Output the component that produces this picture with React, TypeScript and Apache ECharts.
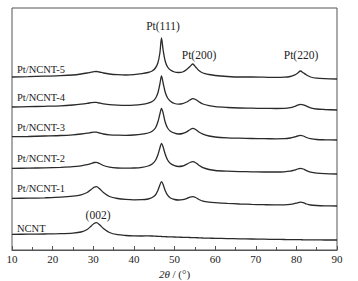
import React, { useEffect, useRef } from "react";
import * as echarts from "echarts";

// 2θ grid (degrees)
const TWO_THETA = [10, 14, 18, 22, 25, 27, 28.5, 29.5, 30.2, 30.8, 31.5, 32.5, 34, 36, 38, 40, 42, 43.5, 44.5, 45.3, 45.9, 46.4, 46.8, 47.2, 47.7, 48.3, 49, 50, 51, 52, 53, 53.8, 54.5, 55.2, 56, 57, 58.5, 60, 63, 66, 69, 72, 75, 77, 78.5, 79.5, 80.3, 81, 81.7, 82.5, 83.5, 85, 87, 90];

// Intensities (a.u., stacked with offsets as in the figure)
const NCNT = [15.7, 15.8, 16, 16.3, 16.9, 18, 20.5, 24, 26.5, 27.3, 25.5, 21.5, 17.5, 15.3, 14.5, 14.1, 14, 14.1, 14, 13.8, 13.7, 13.6, 13.5, 13.4, 13.3, 13.2, 13.1, 13, 12.8, 12.7, 12.6, 12.5, 12.4, 12.3, 12.2, 12, 11.8, 11.7, 11.4, 11.2, 11, 10.8, 10.6, 10.5, 10.4, 10.4, 10.3, 10.3, 10.2, 10.2, 10.1, 10.1, 10, 10];
const PT_NCNT_1 = [51.7, 51.8, 52.2, 52.8, 53.8, 55.2, 57.5, 60.5, 62.8, 63.3, 61.5, 57.5, 53.5, 51.5, 50.6, 50.2, 50.3, 51, 52.5, 55, 59.5, 65, 68.3, 65.5, 59.5, 54.8, 52, 50.5, 50, 50.3, 51.5, 52.8, 53.3, 52.5, 50.5, 48.8, 47.8, 47.3, 46.6, 46, 45.6, 45.3, 45.1, 45.2, 45.6, 46.3, 47.2, 47.8, 47.3, 46, 45, 44.5, 44.2, 44];
const PT_NCNT_2 = [81.7, 81.8, 82.2, 82.7, 83.3, 84.2, 85.3, 86.5, 87.5, 87.7, 86.5, 84.5, 82.8, 82, 81.8, 82, 82.7, 84, 86, 89.5, 95, 102, 106.7, 103, 96, 90, 86.5, 84.3, 83.5, 84, 85.8, 87.5, 88.3, 87.3, 84.8, 82.3, 80.5, 79.5, 78.8, 78.4, 78.2, 78, 78, 78.2, 78.8, 79.8, 81, 81.7, 81, 79.3, 77.8, 76.8, 76.3, 76];
const PT_NCNT_3 = [113.3, 113.5, 114, 114.5, 115.2, 116, 116.8, 117.5, 117.9, 117.8, 117, 116, 115.2, 114.8, 114.7, 115, 115.8, 117, 118.8, 122, 128, 136, 141.7, 137, 128, 122, 118.8, 116.8, 116, 116.5, 118.2, 120.3, 121.7, 120.5, 118, 115.8, 114, 113, 112.2, 111.8, 111.5, 111.3, 111.2, 111.3, 112, 113, 114, 114.6, 114, 112.5, 111.3, 110.5, 110.2, 110];
const PT_NCNT_4 = [143, 143.3, 143.7, 144.2, 145, 145.8, 146.6, 147.3, 147.7, 147.6, 147, 146.2, 145.3, 144.8, 144.6, 144.8, 145.6, 146.8, 148.5, 151.5, 157, 166, 174, 167, 158, 152, 148.8, 146.5, 145.8, 146.3, 148, 150, 151.3, 150.5, 148.3, 146, 144.3, 143.3, 142.5, 142, 141.8, 141.6, 141.5, 141.6, 142.3, 143.5, 144.8, 145.7, 145.2, 143.8, 142.2, 141, 140.5, 140];
const PT_NCNT_5 = [173, 173.3, 173.8, 174.3, 175, 176, 177, 177.8, 178.3, 178.5, 178, 177, 176, 175.3, 175, 175.3, 176.3, 177.5, 179, 182, 187, 197, 212, 200, 189, 183, 180, 178, 177.5, 178, 180.5, 183.5, 186, 183, 179.5, 177, 175.5, 174.5, 173.5, 173, 173, 172.8, 172.6, 172.8, 173.5, 174.8, 176.8, 179, 177.2, 175, 173, 171.8, 171.3, 171];

const SERIES_NAMES = ["NCNT", "Pt/NCNT-1", "Pt/NCNT-2", "Pt/NCNT-3", "Pt/NCNT-4", "Pt/NCNT-5"];
const SERIES_VALUES = [NCNT, PT_NCNT_1, PT_NCNT_2, PT_NCNT_3, PT_NCNT_4, PT_NCNT_5];

const PEAK_LABELS = ["Pt(111)", "Pt(200)", "Pt(220)", "(002)"];
const X_TICKS = [10, 20, 30, 40, 50, 60, 70, 80, 90];

export default function App() {
  const ref = useRef<HTMLDivElement>(null);
  useEffect(() => {
    document.body.style.margin = "0";
    const chart = echarts.init(ref.current!, null, { renderer: "svg" });
    const font = "Liberation Serif";
    const labelY = [228.5, 188, 158.5, 127, 97.3, 69];
    const peakPos = [
      [163, 26],
      [199, 54.5],
      [301, 54.5],
      [98, 215],
    ];
    chart.setOption({
      animation: false,
      backgroundColor: "#fff",
      grid: {
        left: 12,
        right: 21,
        top: 8,
        bottom: 31,
        containLabel: false,
        outerBoundsMode: "none",
        show: true,
        borderColor: "#555",
        borderWidth: 1,
      },
      xAxis: {
        type: "value",
        min: X_TICKS[0],
        max: X_TICKS[X_TICKS.length - 1],
        interval: 10,
        name: "{i|2θ} / (°)",
        nameLocation: "middle",
        nameGap: 16,
        nameTextStyle: {
          fontFamily: font,
          fontSize: 11,
          color: "#222",
          rich: { i: { fontFamily: font, fontSize: 11, fontStyle: "italic", color: "#222" } },
        },
        axisLine: { show: true, lineStyle: { color: "#555", width: 1 } },
        axisTick: { show: true, inside: true, length: 4, lineStyle: { color: "#555" } },
        minorTick: { show: true, splitNumber: 2, length: 3, lineStyle: { color: "#555" } },
        splitLine: { show: false },
        axisLabel: { margin: 3, fontFamily: font, fontSize: 11, color: "#222" },
      },
      yAxis: {
        type: "value",
        min: 0,
        max: 242,
        show: false,
      },
      series: SERIES_NAMES.map((name, k) => ({
        name,
        type: "line",
        showSymbol: false,
        smooth: 0.3,
        data: TWO_THETA.map((x, i) => [x, SERIES_VALUES[k][i]]),
        lineStyle: { color: "#2a2a2a", width: 1.3 },
      })),
      graphic: [
        ...SERIES_NAMES.map((name, k) => ({
          type: "text",
          x: 17,
          y: labelY[k],
          style: {
            text: name,
            fill: "#222",
            fontFamily: font,
            fontSize: 10.5,
            align: "left",
            verticalAlign: "middle",
          },
        })),
        ...PEAK_LABELS.map((t, k) => ({
          type: "text",
          x: peakPos[k][0],
          y: peakPos[k][1],
          style: {
            text: t,
            fill: "#222",
            fontFamily: font,
            fontSize: 11.5,
            align: "center",
            verticalAlign: "middle",
          },
        })),
      ],
    });
    return () => chart.dispose();
  }, []);
  return <div ref={ref} style={{ width: 358, height: 281 }} />;
}
